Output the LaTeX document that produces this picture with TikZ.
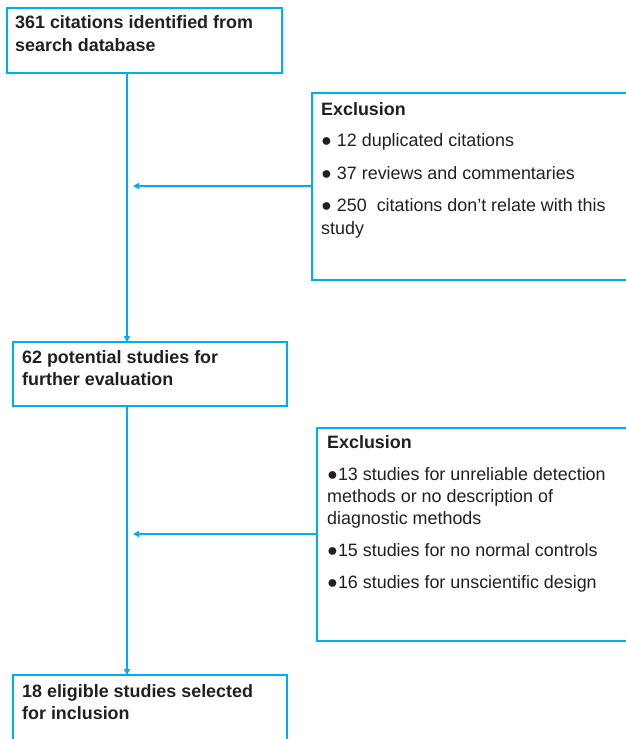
\documentclass[tikz,border=0pt]{standalone}
\usepackage{fontspec}
\setmainfont{Liberation Sans}
\usetikzlibrary{arrows.meta}
\definecolor{flow}{RGB}{0,174,239}
\definecolor{ink}{RGB}{35,31,32}
\begin{document}
\begin{tikzpicture}[x=1bp,y=-1bp,
  box/.style={draw=flow,line width=2.5bp,inner sep=0pt,outer sep=0pt,anchor=north west},
  link/.style={draw=flow,line width=2bp,-{Triangle[length=6bp,width=6bp]}},
  main/.style={anchor=base west,inner sep=0pt,text=ink,font=\fontsize{17.9bp}{22bp}\selectfont\bfseries},
  excl/.style={anchor=base west,inner sep=0pt,text=ink,font=\fontsize{17.9bp}{22bp}\selectfont}]
\useasboundingbox (0,0) rectangle (626,739);
\clip (0,0) rectangle (626,739);
% boxes
\node[box,minimum width=275bp,minimum height=65bp] (b1) at (7,8) {};
\node[box,minimum width=400bp,minimum height=187bp] (b2) at (312,93) {};
\node[box,minimum width=274bp,minimum height=64bp] (b3) at (13,342) {};
\node[box,minimum width=400bp,minimum height=213bp] (b4) at (317,428) {};
\node[box,minimum width=274bp,minimum height=100bp] (b5) at (13,675) {};
% texts
\node[main] (t1a) at (15,29) {361 citations identified from};
\node[main] (t1b) at (15,52) {search database};
\node[main] (t3a) at (22,363) {62 potential studies for};
\node[main] (t3b) at (22,385) {further evaluation};
\node[main] (t5a) at (22,697) {18 eligible studies selected};
\node[main] (t5b) at (22,719) {for inclusion};
\node[main] (e1h) at (321,115) {Exclusion};
\node[excl] (e1a) at (321,146) {● 12 duplicated citations};
\node[excl] (e1b) at (321,179) {● 37 reviews and commentaries};
\node[excl] (e1c) at (321,211) {● 250\ \ citations don’t relate with this};
\node[excl] (e1d) at (321,234) {study};
\node[main] (e2h) at (327,448) {Exclusion};
\node[excl] (e2a) at (327,480) {●13 studies for unreliable detection};
\node[excl] (e2b) at (327,502) {methods or no description of};
\node[excl] (e2c) at (327,524) {diagnostic methods};
\node[excl] (e2d) at (327,556) {●15 studies for no normal controls};
\node[excl] (e2e) at (327,588) {●16 studies for unscientific design};
% connectors
\coordinate (stem) at (127,0);
\coordinate (h1) at (133,186);
\coordinate (h2) at (133,534);
\draw[link] (stem |- b1.south) -- (stem |- b3.north);
\draw[link] (stem |- b3.south) -- (stem |- b5.north);
\draw[link] (b2.west |- h1) -- (h1);
\draw[link] (b4.west |- h2) -- (h2);
\end{tikzpicture}
\end{document}
